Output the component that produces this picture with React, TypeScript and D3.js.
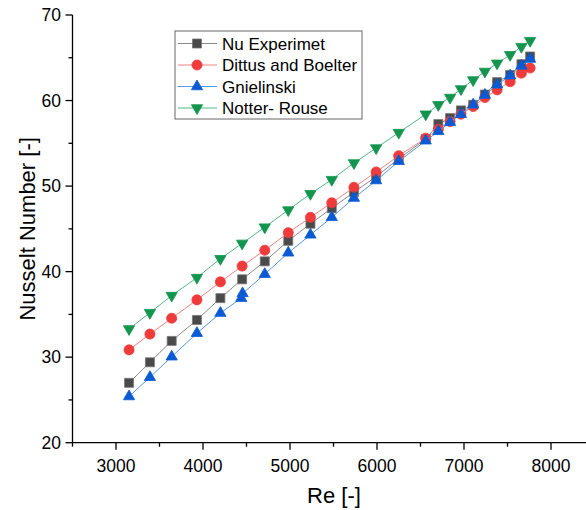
import React from "react";
import * as d3 from "d3";

const W = 586;
const H = 510;

const reValues = [3150, 3390, 3640, 3930, 4200, 4450, 4710, 4980, 5235, 5480, 5735, 5990, 6250, 6560, 6705, 6840, 6965, 7105, 7240, 7380, 7530, 7660, 7760];
const nuExperiment = [27.0, 29.4, 31.9, 34.35, 36.9, 39.1, 41.2, 43.6, 45.6, 47.4, 49.3, 51.1, 53.2, 55.5, 57.25, 57.95, 58.85, 59.5, 60.7, 62.15, 63.0, 64.25, 65.15];
const nuDittus = [30.85, 32.7, 34.55, 36.7, 38.8, 40.65, 42.5, 44.55, 46.35, 48.05, 49.85, 51.65, 53.55, 55.6, 56.65, 57.55, 58.4, 59.3, 60.35, 61.25, 62.2, 63.2, 63.8];
const reGnielinski = [3150, 3390, 3640, 3930, 4200, 4440, 4455, 4710, 4980, 5235, 5480, 5735, 5990, 6250, 6560, 6705, 6840, 6965, 7105, 7240, 7380, 7530, 7660, 7760];
const nuGnielinski = [25.4, 27.65, 30.05, 32.8, 35.15, 36.9, 37.45, 39.7, 42.2, 44.3, 46.35, 48.6, 50.65, 52.9, 55.3, 56.4, 57.45, 58.4, 59.5, 60.65, 61.85, 62.9, 64.05, 64.85];
const nuNotter = [33.3, 35.2, 37.2, 39.3, 41.5, 43.3, 45.2, 47.2, 49.1, 50.75, 52.7, 54.45, 56.25, 58.4, 59.5, 60.35, 61.35, 62.4, 63.4, 64.35, 65.35, 66.3, 67.0];

const xTicks = [3000, 4000, 5000, 6000, 7000, 8000];
const xMinor = [2500, 3500, 4500, 5500, 6500, 7500, 8500];
const yTicks = [20, 30, 40, 50, 60, 70];
const yMinor = [25, 35, 45, 55, 65];

const seriesNames = ["Nu Experimet", "Dittus and Boelter", "Gnielinski", "Notter- Rouse"];

type Series = {
  name: string;
  xs: number[];
  ys: number[];
  symbol: d3.SymbolType;
  size: number;
  fill: string;
  stroke: string;
  line: string;
  rotate: number;
};

const series: Series[] = [
  { name: seriesNames[0], xs: reValues, ys: nuExperiment, symbol: d3.symbolSquare, size: 81, fill: "#4a4a4a", stroke: "#767676", line: "#8a8a8a", rotate: 0 },
  { name: seriesNames[1], xs: reValues, ys: nuDittus, symbol: d3.symbolCircle, size: 80, fill: "#ef3b3b", stroke: "#ef3b3b", line: "#f48080", rotate: 0 },
  { name: seriesNames[2], xs: reGnielinski, ys: nuGnielinski, symbol: d3.symbolTriangle, size: 55, fill: "#0a5bd3", stroke: "#0a5bd3", line: "#5596e6", rotate: 0 },
  { name: seriesNames[3], xs: reValues, ys: nuNotter, symbol: d3.symbolTriangle, size: 55, fill: "#13954f", stroke: "#13954f", line: "#55b787", rotate: 180 },
];

const FONT = "'Liberation Sans', Arial, sans-serif";

export default function App() {
  const x = d3.scaleLinear().domain([2500, 8500]).range([72.5, 594.5]);
  const y = d3.scaleLinear().domain([20, 70]).range([442.7, 15]);
  const lineGen = d3.line<[number, number]>().x((d) => x(d[0])).y((d) => y(d[1]));

  const x0 = x(2500);
  const y0 = y(20);

  const legendX = 175;
  const legendY = 31;
  const legendRow = 21.5;

  return (
    <svg
      width={W}
      height={H}
      style={{ position: "absolute", left: 0, top: 0, background: "#fff" }}
      fontFamily={FONT}
    >
      <rect x={0} y={0} width={W} height={H} fill="#fff" />
      {/* series */}
      {series.map((s, si) => {
        const pts: [number, number][] = s.xs.map((v, i) => [v, s.ys[i]]);
        const sym = d3.symbol().type(s.symbol).size(s.size)()!;
        return (
          <g key={si}>
            <path d={lineGen(pts)!} fill="none" stroke={s.line} strokeWidth={1} />
            {pts.map((p, i) => (
              <path
                key={i}
                d={sym}
                transform={`translate(${x(p[0])},${y(p[1])}) rotate(${s.rotate})`}
                fill={s.fill}
                stroke={s.stroke}
                strokeWidth={0.8}
              />
            ))}
          </g>
        );
      })}

      {/* axes */}
      <line x1={x0} y1={y0} x2={W} y2={y0} stroke="#000" strokeWidth={1.3} />
      <line x1={x0} y1={y0} x2={x0} y2={y(70)} stroke="#000" strokeWidth={1.3} />
      {xTicks.map((t) => (
        <g key={"xt" + t}>
          <line x1={x(t)} x2={x(t)} y1={y0} y2={y0 + 7} stroke="#000" strokeWidth={1.3} />
          <text x={x(t)} y={471.5} textAnchor="middle" fontSize={17.5} fill="#000">
            {t}
          </text>
        </g>
      ))}
      {xMinor.map((t) => (
        <line key={"xm" + t} x1={x(t)} x2={x(t)} y1={y0} y2={y0 + 4} stroke="#000" strokeWidth={1.3} />
      ))}
      {yTicks.map((t) => (
        <g key={"yt" + t}>
          <line x1={x0 - 7} x2={x0} y1={y(t)} y2={y(t)} stroke="#000" strokeWidth={1.3} />
          <text x={61} y={y(t) + 6.2} textAnchor="end" fontSize={17.5} fill="#000">
            {t}
          </text>
        </g>
      ))}
      {yMinor.map((t) => (
        <line key={"ym" + t} x1={x0 - 4} x2={x0} y1={y(t)} y2={y(t)} stroke="#000" strokeWidth={1.3} />
      ))}

      <text x={334} y={503} textAnchor="middle" fontSize={22} fill="#000">
        Re [-]
      </text>
      <text
        transform={`translate(35,${(y(20) + y(70)) / 2}) rotate(-90)`}
        textAnchor="middle"
        fontSize={22}
        fill="#000"
      >
        Nusselt Number [-]
      </text>

      {/* legend */}
      <rect x={legendX} y={legendY} width={187} height={88} fill="#fff" stroke="#666" strokeWidth={1} />
      {series.map((s, i) => {
        const cy = legendY + 12.5 + i * legendRow;
        const sym = d3.symbol().type(s.symbol).size(s.size)()!;
        return (
          <g key={"lg" + i}>
            <line x1={legendX + 3} x2={legendX + 42} y1={cy} y2={cy} stroke={s.line} strokeWidth={1} />
            <path
              d={sym}
              transform={`translate(${legendX + 22},${cy}) rotate(${s.rotate})`}
              fill={s.fill}
              stroke={s.stroke}
              strokeWidth={0.8}
            />
            <text x={legendX + 47} y={cy + 6} fontSize={17} fill="#000">
              {s.name}
            </text>
          </g>
        );
      })}
    </svg>
  );
}
